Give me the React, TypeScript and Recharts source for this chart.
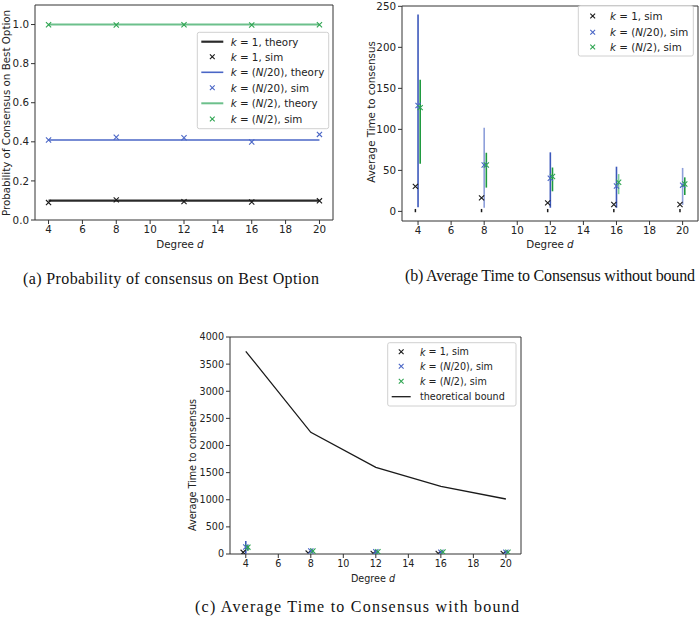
import React from "react";
import { ComposedChart, Line, Scatter, XAxis, YAxis, ErrorBar, ReferenceArea } from "recharts";

// ---------- data ----------
const degrees = [4, 8, 12, 16, 20];
const degreeTicks = [4, 6, 8, 10, 12, 14, 16, 18, 20];

// (a) probability of consensus on best option
const probTicks = [0, 0.2, 0.4, 0.6, 0.8, 1.0];
const probTheoryK1 = [0.099, 0.099, 0.099, 0.099, 0.099];
const probSimK1 = [0.089, 0.103, 0.094, 0.092, 0.098];
const probTheoryN20 = [0.409, 0.409, 0.409, 0.409, 0.409];
const probSimN20 = [0.409, 0.423, 0.421, 0.399, 0.438];
const probTheoryN2 = [1.0, 1.0, 1.0, 1.0, 1.0];
const probSimN2 = [0.999, 0.998, 0.999, 0.998, 0.999];

// (b)/(c) average time to consensus (simulation)
const timeTicks = [0, 50, 100, 150, 200, 250];
const simShiftK1 = -0.16;
const simShiftN2 = 0.13;
const timeSimK1 = [30.5, 16.5, 10.4, 8.4, 8.4];
const timeLowK1 = [-1, -1, -1, -1, -1];
const timeHighK1 = [3, 3, 3, 3, 3];
const timeSimN20 = [129, 56.5, 40.5, 31, 32];
const timeLowN20 = [5, 4.5, 4.5, 4.5, 8];
const timeHighN20 = [240, 102, 72, 54.5, 53];
const timeSimN2 = [126.5, 56.5, 42.5, 35.5, 33.5];
const timeLowN2 = [58, 29, 24.5, 21, 20];
const timeHighN2 = [160.5, 71.5, 53.5, 45.5, 41.5];

// (c) theoretical bound
const boundTicks = [0, 500, 1000, 1500, 2000, 2500, 3000, 3500, 4000];
const theoreticalBound = [3736, 2243, 1598, 1247, 1014];

// ---------- styles ----------
const AX = "#333";
const BLACK = "#1a1a1a";
const BLUE = "#4a66c6";
const BLUE_LIGHT = "#8e9fda";
const GREEN_LINE = "#6cc08b";
const GREEN = "#2fa552";
const GREEN_LIGHT = "#80cf97";
const SANS = "DejaVu Sans";
const SERIF = "Liberation Serif";

const pts = (xs: number[], ys: number[]) => xs.map((x, i) => ({ x, y: ys[i] }));
const errPts = (shift: number, ys: number[], lo: number[], hi: number[]) =>
  degrees.map((d, i) => ({ x: d + shift, y: ys[i], err: [ys[i] - lo[i], hi[i] - ys[i]] }));

const xMark = (color: string, s = 2.6) => (props: any) => {
  const { cx, cy } = props;
  if (cx == null || cy == null) return <g />;
  return (
    <path
      d={`M${cx - s},${cy - s}L${cx + s},${cy + s}M${cx - s},${cy + s}L${cx + s},${cy - s}`}
      stroke={color}
      strokeWidth={1.1}
      fill="none"
    />
  );
};
const noMark = () => <g />;

const tickStyle = (fs: number) => ({ fontSize: fs, fill: "#222", fontFamily: SANS });

// light-coloured error bars (by degree) as in the reference
const lightN20 = new Set([8, 20]);
const lightN2 = new Set([16]);

function simSeries() {
  const k1 = errPts(simShiftK1, timeSimK1, timeLowK1, timeHighK1);
  const n20 = errPts(0, timeSimN20, timeLowN20, timeHighN20);
  const n2 = errPts(simShiftN2, timeSimN2, timeLowN2, timeHighN2);
  const n20Dark = n20.filter((p) => !lightN20.has(Math.round(p.x)));
  const n20Light = n20.filter((p) => lightN20.has(Math.round(p.x)));
  const n2Dark = n2.filter((p) => !lightN2.has(Math.round(p.x)));
  const n2Light = n2.filter((p) => lightN2.has(Math.round(p.x)));
  return [
    <Scatter key="k1" data={k1} dataKey="y" shape={xMark(BLACK)} isAnimationActive={false}>
      <ErrorBar dataKey="err" direction="y" width={0} stroke={BLACK} strokeWidth={1.5} />
    </Scatter>,
    <Scatter key="n20d" data={n20Dark} dataKey="y" shape={noMark} isAnimationActive={false}>
      <ErrorBar dataKey="err" direction="y" width={0} stroke="#3c58bb" strokeWidth={1.6} />
    </Scatter>,
    <Scatter key="n20l" data={n20Light} dataKey="y" shape={noMark} isAnimationActive={false}>
      <ErrorBar dataKey="err" direction="y" width={0} stroke={BLUE_LIGHT} strokeWidth={1.6} />
    </Scatter>,
    <Scatter key="n20m" data={n20} dataKey="y" shape={xMark(BLUE)} isAnimationActive={false} />,
    <Scatter key="n2d" data={n2Dark} dataKey="y" shape={noMark} isAnimationActive={false}>
      <ErrorBar dataKey="err" direction="y" width={0} stroke="#1e9a3e" strokeWidth={1.6} />
    </Scatter>,
    <Scatter key="n2l" data={n2Light} dataKey="y" shape={noMark} isAnimationActive={false}>
      <ErrorBar dataKey="err" direction="y" width={0} stroke={GREEN_LIGHT} strokeWidth={1.6} />
    </Scatter>,
    <Scatter key="n2m" data={n2} dataKey="y" shape={xMark(GREEN)} isAnimationActive={false} />,
  ];
}

const K = () => <tspan fontStyle="italic">k</tspan>;
const N = () => <tspan fontStyle="italic">N</tspan>;

type Row = { kind: "line" | "mark"; color: string; w?: number; label: React.ReactNode };

function LegendBox(props: {
  x: number; y: number; w: number; h: number; rowY: number[]; hx1: number; hx2: number; tx: number; rows: Row[]; fs: number;
}) {
  const { x, y, w, h, rowY, hx1, hx2, tx, rows, fs } = props;
  const mx = (hx1 + hx2) / 2;
  return (
    <g>
      <rect x={x} y={y} width={w} height={h} rx={2} fill="#fff" fillOpacity={0.85} stroke="#d0d0d0" strokeWidth={1} />
      {rows.map((r, i) => (
        <g key={i}>
          {r.kind === "line" ? (
            <line x1={hx1} x2={hx2} y1={rowY[i]} y2={rowY[i]} stroke={r.color} strokeWidth={r.w ?? 1.5} />
          ) : (
            xMark(r.color, 2.4)({ cx: mx, cy: rowY[i] })
          )}
          <text x={tx} y={rowY[i]} dominantBaseline="central" fontSize={fs} fontFamily={SANS} fill="#222">
            {r.label}
          </text>
        </g>
      ))}
    </g>
  );
}

export default function App() {
  const fsA = 10.3;
  const fsC = 9.6;
  const capFs = 16;
  return (
    <div style={{ position: "absolute", left: 0, top: 0, width: 699, height: 617, background: "#fff", overflow: "hidden" }}>
      {/* (a) */}
      <div style={{ position: "absolute", left: 0, top: 0 }}>
        <ComposedChart width={345} height={260} margin={{ top: 5, right: 12, bottom: 10, left: 5 }}>
          <XAxis dataKey="x" type="number" domain={[3.2, 20.8]} ticks={degreeTicks} interval={0} allowDataOverflow
            tickSize={4} tickMargin={2} tickLine={{ stroke: AX }} axisLine={false} tick={tickStyle(fsA)} height={30} />
          <YAxis type="number" domain={[0, 1.1]} ticks={probTicks} interval={0} allowDataOverflow width={30}
            tickSize={4} tickMargin={2} tickLine={{ stroke: AX }} axisLine={false} tick={tickStyle(fsA)}
            tickFormatter={(v: number) => v.toFixed(1)} />
          <ReferenceArea x1={3.2} x2={20.8} y1={0} y2={1.1} fill="none" stroke={AX} strokeWidth={1} ifOverflow="visible" />
          <Line data={pts(degrees, probTheoryK1)} dataKey="y" stroke="#2a2a2a" strokeWidth={2.2} dot={false} isAnimationActive={false} />
          <Scatter data={pts(degrees, probSimK1)} dataKey="y" shape={xMark(BLACK)} isAnimationActive={false} />
          <Line data={pts(degrees, probTheoryN20)} dataKey="y" stroke={BLUE} strokeWidth={1.6} dot={false} isAnimationActive={false} />
          <Scatter data={pts(degrees, probSimN20)} dataKey="y" shape={xMark(BLUE)} isAnimationActive={false} />
          <Line data={pts(degrees, probTheoryN2)} dataKey="y" stroke={GREEN_LINE} strokeWidth={2} dot={false} isAnimationActive={false} />
          <Scatter data={pts(degrees, probSimN2)} dataKey="y" shape={xMark(GREEN)} isAnimationActive={false} />
        </ComposedChart>
      </div>

      {/* (b) */}
      <div style={{ position: "absolute", left: 350, top: 0 }}>
        <ComposedChart width={349} height={260} margin={{ top: 6, right: 1, bottom: 9, left: 22 }}>
          <XAxis dataKey="x" type="number" domain={[3.03, 20.93]} ticks={degreeTicks} interval={0} allowDataOverflow
            tickSize={4} tickMargin={2} tickLine={{ stroke: AX }} axisLine={false} tick={tickStyle(fsA)} height={30} />
          <YAxis type="number" domain={[-11.7, 250.4]} ticks={timeTicks} interval={0} allowDataOverflow width={30}
            tickSize={4} tickMargin={2} tickLine={{ stroke: AX }} axisLine={false} tick={tickStyle(fsA)} />
          <ReferenceArea x1={3.03} x2={20.93} y1={-11.7} y2={250.4} fill="none" stroke={AX} strokeWidth={1} ifOverflow="visible" />
          {simSeries()}
        </ComposedChart>
      </div>

      {/* (c) */}
      <div style={{ position: "absolute", left: 160, top: 330 }}>
        <ComposedChart width={400} height={260} margin={{ top: 7, right: 39, bottom: 6, left: 35 }}>
          <XAxis dataKey="x" type="number" domain={[3.03, 20.93]} ticks={degreeTicks} interval={0} allowDataOverflow
            tickSize={4} tickMargin={2} tickLine={{ stroke: AX }} axisLine={false} tick={tickStyle(fsC)} height={30} />
          <YAxis type="number" domain={[0, 4000]} ticks={boundTicks} interval={0} allowDataOverflow width={35}
            tickSize={4} tickMargin={2} tickLine={{ stroke: AX }} axisLine={false} tick={tickStyle(fsC)} />
          <ReferenceArea x1={3.03} x2={20.93} y1={0} y2={4000} fill="none" stroke={AX} strokeWidth={1} ifOverflow="visible" />
          {simSeries()}
          <Line data={pts(degrees, theoreticalBound)} dataKey="y" stroke={BLACK} strokeWidth={1.3} dot={false} isAnimationActive={false} />
        </ComposedChart>
      </div>

      {/* overlay: axis titles, legends, captions */}
      <svg width={699} height={617} style={{ position: "absolute", left: 0, top: 0, pointerEvents: "none" }}>
        {/* axis titles */}
        <text x={180} y={244} textAnchor="middle" dominantBaseline="central" fontSize={fsA} fontFamily={SANS} fill="#222">
          Degree <tspan fontStyle="italic">d</tspan>
        </text>
        <text transform="translate(6,113) rotate(-90)" textAnchor="middle" dominantBaseline="central" fontSize={fsA} fontFamily={SANS} fill="#222">
          Probability of Consensus on Best Option
        </text>
        <text x={550} y={244} textAnchor="middle" dominantBaseline="central" fontSize={fsA} fontFamily={SANS} fill="#222">
          Degree <tspan fontStyle="italic">d</tspan>
        </text>
        <text transform="translate(371,112) rotate(-90)" textAnchor="middle" dominantBaseline="central" fontSize={fsA} fontFamily={SANS} fill="#222">
          Average Time to consensus
        </text>
        <text x={373} y={578} textAnchor="middle" dominantBaseline="central" fontSize={fsC} fontFamily={SANS} fill="#222">
          Degree <tspan fontStyle="italic">d</tspan>
        </text>
        <text transform="translate(192,465) rotate(-90)" textAnchor="middle" dominantBaseline="central" fontSize={fsC} fontFamily={SANS} fill="#222">
          Average Time to consensus
        </text>

        {/* legends */}
        <LegendBox x={197.3} y={32.3} w={131.4} h={96.4} rowY={[41.7, 56.7, 72.3, 87.7, 103.3, 119]} hx1={201.3} hx2={223.3} tx={230.7} fs={fsA}
          rows={[
            { kind: "line", color: "#2a2a2a", w: 2.2, label: <><K /> = 1, theory</> },
            { kind: "mark", color: BLACK, label: <><K /> = 1, sim</> },
            { kind: "line", color: BLUE, w: 1.6, label: <><K /> = (<N />/20), theory</> },
            { kind: "mark", color: BLUE, label: <><K /> = (<N />/20), sim</> },
            { kind: "line", color: GREEN_LINE, w: 2, label: <><K /> = (<N />/2), theory</> },
            { kind: "mark", color: GREEN, label: <><K /> = (<N />/2), sim</> },
          ]} />
        <LegendBox x={578.3} y={5.7} w={115} h={50.3} rowY={[16, 32.3, 47]} hx1={582} hx2={603.4} tx={610} fs={fsA}
          rows={[
            { kind: "mark", color: BLACK, label: <><K /> = 1, sim</> },
            { kind: "mark", color: BLUE, label: <><K /> = (<N />/20), sim</> },
            { kind: "mark", color: GREEN, label: <><K /> = (<N />/2), sim</> },
          ]} />
        <LegendBox x={387.7} y={342.7} w={128.3} h={63.3} rowY={[351.7, 366.3, 381.3, 396.7]} hx1={391.7} hx2={410.7} tx={420} fs={fsC}
          rows={[
            { kind: "mark", color: BLACK, label: <><K /> = 1, sim</> },
            { kind: "mark", color: BLUE, label: <><K /> = (<N />/20), sim</> },
            { kind: "mark", color: GREEN, label: <><K /> = (<N />/2), sim</> },
            { kind: "line", color: BLACK, w: 1.3, label: <>theoretical bound</> },
          ]} />

        {/* captions */}
        <text x={171} y={278} textAnchor="middle" dominantBaseline="central" fontSize={capFs} fontFamily={SERIF} fill="#111"
          textLength={296} lengthAdjust="spacing">
          (a) Probability of consensus on Best Option
        </text>
        <text x={550} y={275} textAnchor="middle" dominantBaseline="central" fontSize={capFs} fontFamily={SERIF} fill="#111"
          textLength={290} lengthAdjust="spacing">
          (b) Average Time to Consensus without bound
        </text>
        <text x={357} y={606} textAnchor="middle" dominantBaseline="central" fontSize={capFs} fontFamily={SERIF} fill="#111"
          textLength={324} lengthAdjust="spacing">
          (c) Average Time to Consensus with bound
        </text>
      </svg>
    </div>
  );
}
